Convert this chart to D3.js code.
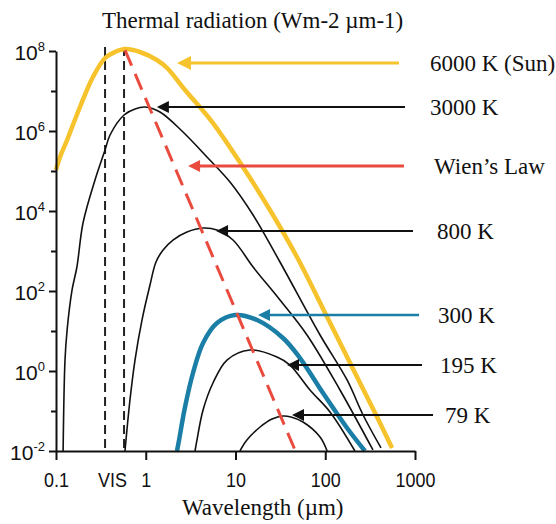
<!DOCTYPE html>
<html><head><meta charset="utf-8">
<script src="https://cdn.jsdelivr.net/npm/d3@7"></script>
<style>
html,body{margin:0;padding:0;background:#fff;}
svg{display:block;}
</style>
</head><body>
<svg id="chart" width="556" height="524"></svg>
<script>
// ---------- data (wavelength in µm, radiance in W m-2 µm-1) ----------
const wl6000  = [0.1, 0.111, 0.133, 0.185, 0.258, 0.352, 0.454, 0.587, 0.863, 1.33, 1.73, 2.74, 5.61, 12.1, 24.2, 48.4, 105, 189, 378, 555];
const rad6000 = [1.06e5, 2.24e5, 5.96e5, 3.98e6, 2.24e7, 6.68e7, 9.44e7, 1.12e8, 9.44e7, 5.96e7, 3.76e7, 1.06e7, 1.58e6, 1.26e5, 1.06e4, 708, 22.4, 1.58, 0.0708, 0.0119];

const wl3000  = [0.120, 0.126, 0.133, 0.151, 0.171, 0.200, 0.272, 0.352, 0.400, 0.573, 0.759, 0.982, 1.44, 2.60, 4.81, 8.68, 15.7, 31.3, 87.5, 175, 264, 418];
const rad3000 = [0.01, 1.88, 10.6, 106, 398, 5010, 5.96e4, 3.35e5, 7.94e5, 2.51e6, 3.55e6, 3.98e6, 2.99e6, 9.44e5, 2.24e5, 5.31e4, 7940, 531, 7.94, 0.596, 0.0794, 0.0119];

const wl800   = [0.587, 0.667, 0.759, 0.908, 1.115, 1.30, 1.56, 2.01, 2.88, 4.35, 6.22, 9.38, 15.7, 31.3, 62.6, 146, 340];
const rad800  = [0.01, 0.188, 1.88, 18.8, 141, 531, 1060, 1880, 2990, 3760, 3350, 1880, 398, 59.6, 7.94, 0.335, 0.0106];

const wl300   = [2.23, 2.35, 2.74, 3.36, 4.35, 6.22, 9.87, 17.4, 33.8, 52.3, 94.4, 175, 277];
const rad300  = [0.01, 0.0188, 0.126, 0.891, 5.01, 15.8, 25.1, 18.8, 6.68, 2.11, 0.282, 0.0376, 0.01];

const wl195   = [3.54, 3.72, 4.35, 5.61, 8.04, 14.5, 29.0, 40.5, 67.6, 113, 214];
const rad195  = [0.01, 0.0188, 0.106, 0.501, 1.88, 3.35, 2.24, 1.41, 0.335, 0.0944, 0.01];

const wl79    = [11.2, 13.4, 18.8, 25.5, 33.8, 41.5, 56.5, 87.5, 105];
const rad79   = [0.01, 0.0188, 0.0398, 0.0631, 0.075, 0.0708, 0.0531, 0.0224, 0.01];

const wienWavelength = [0.587, 46.0];
const wienRadiance   = [1.06e8, 0.0106];

const visBounds = [0.352, 0.573];
const visTop = 1.26e8;

const xTickValues = [0.1, 0.421, 1, 10, 100, 1000];
const xTickLabels = ["0.1", "VIS", "1", "10", "100", "1000"];
const yTickExponents = [-2, -1, 0, 1, 2, 3, 4, 5, 6, 7, 8];

// annotation arrows: label, level (radiance), tip / tail / label wavelength
const arrowLabels = ["6000 K (Sun)", "3000 K", "Wien\u2019s Law", "800 K", "300 K", "195 K", "79 K"];
const arrowLevel  = [5.0e7, 3.98e6, 1.33e5, 3162, 25.1, 1.41, 0.0794];
const arrowTip    = [2.23, 1.33, 2.96, 6.07, 17.8, 37.5, 42.6];
const arrowTail   = [664, 774, 754, 950, 1109, 1197, 1588];
const arrowLabelX = [1469, 1469, 1629, 1758, 1803, 1900, 2158];

// ---------- styling ----------
const YELLOW = "#f6c32c", BLUE = "#1b7ea6", RED = "#e94b3f", BLACK = "#111";
const arrowColors = [YELLOW, BLACK, RED, BLACK, BLUE, BLACK, BLACK];
const arrowWidths = [3, 2, 3, 2, 2.5, 2, 2];
const SERIF = "'Liberation Serif','Times New Roman',Times,serif";
const SANS = "'Liberation Sans',Arial,Helvetica,sans-serif";

const svg = d3.select("#chart");

const x = d3.scaleLog().domain([0.1, 1000]).range([56, 415]);
const y = d3.scaleLog().domain([1e-2, 1e8]).range([451, 51]);

// ---------- VIS dashed lines ----------
svg.append("g").selectAll("line").data(visBounds).join("line")
  .attr("x1", d => x(d)).attr("x2", d => x(d))
  .attr("y1", y(visTop)).attr("y2", y(1e-2))
  .attr("stroke", "#222").attr("stroke-width", 2).attr("stroke-dasharray", "9,5");

// ---------- curves ----------
const series = [
  {wl: wl3000, rad: rad3000, color: BLACK, w: 1.6},
  {wl: wl800,  rad: rad800,  color: BLACK, w: 1.6},
  {wl: wl195,  rad: rad195,  color: BLACK, w: 1.6},
  {wl: wl79,   rad: rad79,   color: BLACK, w: 1.6},
  {wl: wl300,  rad: rad300,  color: BLUE,  w: 4.5},
  {wl: wl6000, rad: rad6000, color: YELLOW, w: 4.5}
];
const line = d3.line().x(d => x(d[0])).y(d => y(d[1])).curve(d3.curveCatmullRom.alpha(0.5));
svg.append("g").selectAll("path").data(series).join("path")
  .attr("d", s => line(s.wl.map((v, i) => [v, s.rad[i]])))
  .attr("fill", "none").attr("stroke", s => s.color).attr("stroke-width", s => s.w)
  .attr("stroke-linejoin", "round").attr("stroke-linecap", "butt");

// ---------- Wien's law ----------
svg.append("path")
  .attr("d", d3.line().x(d => x(d[0])).y(d => y(d[1]))(wienWavelength.map((v, i) => [v, wienRadiance[i]])))
  .attr("fill", "none").attr("stroke", RED).attr("stroke-width", 3).attr("stroke-dasharray", "17,9");

// ---------- axes ----------
const gx = svg.append("g").attr("transform", `translate(0,${y(1e-2)})`)
  .call(d3.axisBottom(x).tickValues(xTickValues).tickFormat((d, i) => xTickLabels[i])
    .tickSize(9).tickSizeOuter(0).tickPadding(12));
gx.attr("font-family", SANS).attr("font-size", 21);
gx.select(".domain").attr("stroke", BLACK).attr("stroke-width", 2);
gx.selectAll(".tick line").attr("stroke", BLACK).attr("stroke-width", 2);
gx.selectAll(".tick text").attr("fill", BLACK).attr("transform", "scale(0.855,1)");
gx.selectAll(".tick").filter(d => d === 0.421).select("line").remove();

const gy = svg.append("g").attr("transform", `translate(${x(0.1)},0)`)
  .call(d3.axisLeft(y).tickValues(yTickExponents.map(e => Math.pow(10, e)))
    .tickFormat(() => "").tickSize(7).tickSizeOuter(0));
gy.attr("font-family", SANS).attr("font-size", 21);
gy.select(".domain").attr("stroke", BLACK).attr("stroke-width", 2);
gy.selectAll(".tick line").attr("stroke", BLACK).attr("stroke-width", 2);
gy.selectAll(".tick").each(function(d) {
  const e = Math.round(Math.log10(d));
  const g = d3.select(this);
  if (e % 2 !== 0) {
    g.select("line").attr("x2", -5);
    g.select("text").remove();
  } else {
    const t = g.select("text").text(null).attr("x", -11).attr("dy", "0.42em").attr("fill", BLACK);
    t.append("tspan").text("10");
    t.append("tspan").attr("dy", -9).attr("font-size", 13).text(String(e));
  }
});

// ---------- arrows and labels ----------
const ag = svg.append("g");
arrowLabels.forEach((lab, i) => {
  const yy = y(arrowLevel[i]);
  const xt = x(arrowTip[i]);
  const len = i === 0 ? 14 : 12, hw = i === 0 ? 7 : 6;
  ag.append("line").attr("x1", xt + len - 1).attr("x2", x(arrowTail[i]))
    .attr("y1", yy).attr("y2", yy)
    .attr("stroke", arrowColors[i]).attr("stroke-width", arrowWidths[i]);
  ag.append("path")
    .attr("d", `M${xt},${yy}L${xt + len},${yy - hw}L${xt + len},${yy + hw}Z`)
    .attr("fill", arrowColors[i]);
  ag.append("text").attr("x", x(arrowLabelX[i])).attr("y", yy).attr("dy", "0.35em")
    .attr("font-family", SERIF).attr("font-size", 23).attr("fill", "#111").text(lab);
});

// ---------- titles ----------
svg.append("text").attr("x", 102).attr("y", 28)
  .attr("font-family", SERIF).attr("font-size", 23).attr("fill", "#111")
  .text("Thermal radiation (Wm-2 \u00b5m-1)");
svg.append("text").attr("x", 182).attr("y", 515)
  .attr("font-family", SERIF).attr("font-size", 23).attr("fill", "#111")
  .text("Wavelength (\u00b5m)");
</script>
</body></html>
